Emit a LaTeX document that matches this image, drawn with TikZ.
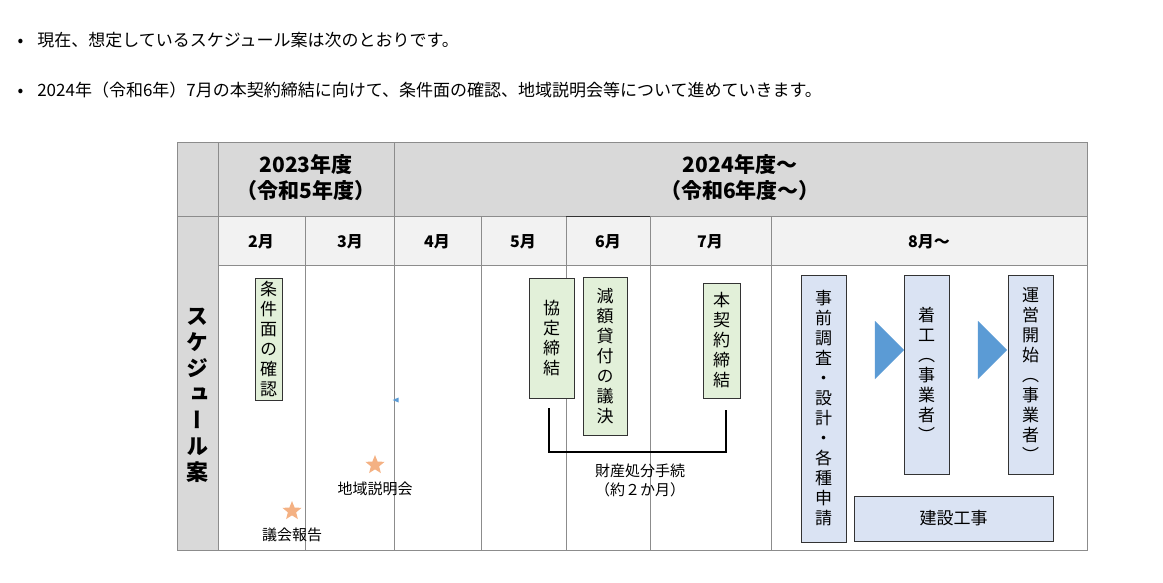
\documentclass[tikz,border=0pt]{standalone}
\usepackage{fontspec}
\setmainfont{Noto Sans CJK JP}
\newfontfamily\vfont[RawFeature=+vert]{Noto Sans CJK JP}
\usetikzlibrary{shapes.geometric,shapes.arrows}
\definecolor{hdr}{RGB}{217,217,217}
\definecolor{mon}{RGB}{242,242,242}
\definecolor{grn}{RGB}{226,240,217}
\definecolor{blu}{RGB}{218,227,243}
\definecolor{org}{RGB}{244,177,131}
\definecolor{arr}{RGB}{91,155,213}
\definecolor{gline}{RGB}{140,140,140}
\tikzset{
 box/.style={draw=black!80,line width=0.8pt,inner sep=0pt,align=center,font=\vfont\fontsize{17}{20}\selectfont},
 gbox/.style={box,fill=grn},
 bbox/.style={box,fill=blu},
 star5/.style={star,star points=5,star point ratio=2.3,fill=org,inner sep=0pt,minimum size=20pt},
 lbl/.style={font=\fontsize{15}{19}\selectfont,align=center},
 mlbl/.style={font=\bfseries\fontsize{16}{18}\selectfont},
}
\begin{document}
\begin{tikzpicture}[x=1pt,y=-1pt]
\useasboundingbox (0,0) rectangle (1163,582);
% bullets
\node[anchor=west,font=\fontsize{17}{20}\selectfont] (b1) at (14,40) {•\hspace{14pt}現在、想定しているスケジュール案は次のとおりです。};
\node[anchor=west,font=\fontsize{17}{20}\selectfont] (b2) at (14,90) {•\hspace{14pt}2024年（令和6年）7月の本契約締結に向けて、条件面の確認、地域説明会等について進めていきます。};
% table fills
\fill[hdr] (177,142) rectangle (1087,216);
\fill[hdr] (177,216) rectangle (218,550);
\fill[mon] (218,216) rectangle (1087,265);
% lines
\draw[gline,line width=0.8pt] (177,142) rectangle (1087,550);
\draw[gline,line width=0.8pt] (218,142) -- (218,550);
\draw[gline,line width=0.8pt] (394,142) -- (394,550);
\draw[gline,line width=0.8pt] (177,216) -- (1087,216);
\draw[gline,line width=0.8pt] (218,265) -- (1087,265);
\foreach \x in {305,481,566,650,771} \draw[gline,line width=0.8pt] (\x,216) -- (\x,550);
\draw[black!80,line width=1pt] (566,216) -- (650,216);
% headers
\node[font=\bfseries\fontsize{21}{26}\selectfont,align=center] (y23) at (306,178) {2023年度\\（令和5年度）};
\node[font=\bfseries\fontsize{21}{26}\selectfont,align=center] (y24) at (740,178) {2024年度～\\（令和6年度～）};
\node[mlbl] (m2) at (261,242) {2月};
\node[mlbl] (m3) at (350,242) {3月};
\node[mlbl] (m4) at (437,242) {4月};
\node[mlbl] (m5) at (523,242) {5月};
\node[mlbl] (m6) at (608,242) {6月};
\node[mlbl] (m7) at (710,242) {7月};
\node[mlbl] (m8) at (929,242) {8月～};
\node[font=\vfont\bfseries\fontsize{22}{26}\selectfont,align=center] (side) at (197,395) {ス\\ケ\\ジ\\ュ\\ー\\ル\\案};
% green boxes
\node[gbox,minimum width=27pt,minimum height=122pt] (c1) at (268.5,339) {条\\件\\面\\の\\確\\認};
\node[gbox,minimum width=45pt,minimum height=120pt] (c2) at (551.5,338) {協\\定\\締\\結};
\node[gbox,minimum width=44pt,minimum height=158pt] (c3) at (605,356) {減\\額\\貸\\付\\の\\議\\決};
\node[gbox,minimum width=37pt,minimum height=115pt] (c4) at (721.5,340.5) {本\\契\\約\\締\\結};
% bracket
\coordinate (k1) at (549,408);
\coordinate (k2) at (726,410);
\draw[black,line width=2.5pt] (k1) |- (637,452) -| (k2);
\node[lbl] (kt) at (640,480) {財産処分手続\\（約２か月）};
% stars
\node[star5] (s1) at (375,465) {};
\node[lbl,anchor=north] (s1t) at (375,478) {地域説明会};
\node[star5] (s2) at (292,511) {};
\node[lbl,anchor=north] (s2t) at (292,524) {議会報告};
\node[isosceles triangle,fill=arr,inner sep=0pt,minimum size=5pt,shape border rotate=180] (tri) at (397,400) {};
% blue boxes
\node[bbox,minimum width=45pt,minimum height=267pt] (d1) at (823.5,408.5) {事\\前\\調\\査\\・\\設\\計\\・\\各\\種\\申\\請};
\node[bbox,minimum width=45pt,minimum height=199pt] (d2) at (926.5,374.5) {着\\工\\（\\事\\業\\者\\）};
\node[bbox,minimum width=45pt,minimum height=199pt] (d3) at (1030.5,374.5) {運\\営\\開\\始\\（\\事\\業\\者\\）};
\node[bbox,minimum width=199pt,minimum height=45pt,font=\fontsize{17}{20}\selectfont] (d4) at (953.5,518.5) {建設工事};
% arrows
\node[single arrow,fill=arr,inner sep=0pt,minimum height=28pt,minimum width=58pt,single arrow head extend=0pt,single arrow tip angle=90] (a1) at (875,350) {};
\node[single arrow,fill=arr,inner sep=0pt,minimum height=28pt,minimum width=58pt,single arrow head extend=0pt,single arrow tip angle=90] (a2) at (978,350) {};
\end{tikzpicture}
\end{document}
